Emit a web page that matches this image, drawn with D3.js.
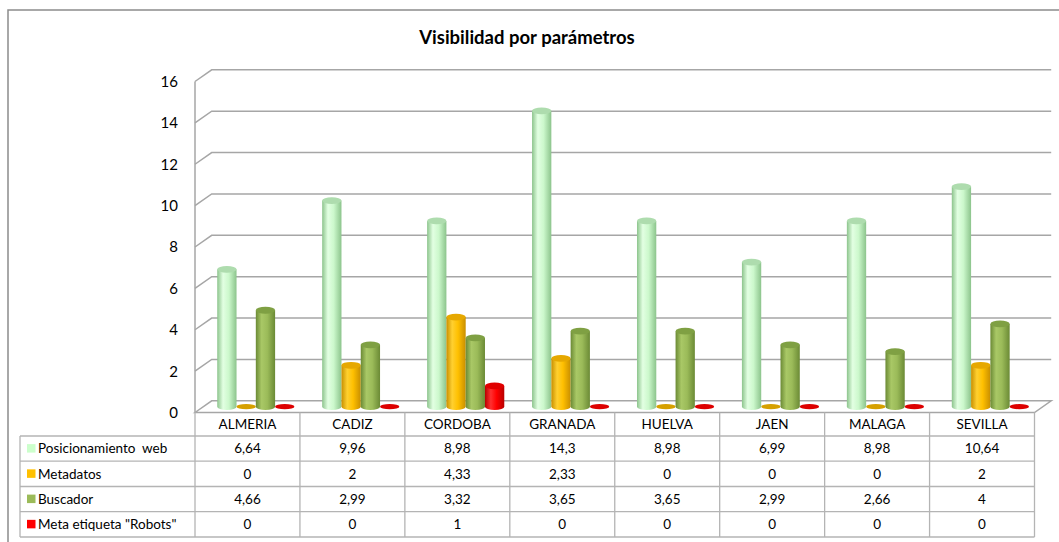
<!DOCTYPE html>
<html><head><meta charset="utf-8">
<script src="https://cdn.jsdelivr.net/npm/d3@7"></script>
<style>body{margin:0;background:#fff}svg{display:block}text{font-family:Lato,"Open Sans",sans-serif}</style>
</head><body><svg id="c" width="1059" height="542"></svg>
<script>
const categories = ["ALMERIA","CADIZ","CORDOBA","GRANADA","HUELVA","JAEN","MALAGA","SEVILLA"];
const seriesNames = ["Posicionamiento  web","Metadatos","Buscador","Meta etiqueta \"Robots\""];
const posicionamiento = [6.64,9.96,8.98,14.3,8.98,6.99,8.98,10.64];
const metadatos = [0,2,4.33,2.33,0,0,0,2];
const buscador = [4.66,2.99,3.32,3.65,3.65,2.99,2.66,4];
const robots = [0,0,1,0,0,0,0,0];
const yTicks = [0,2,4,6,8,10,12,14,16];
const seriesColors = ["#ccffcc","#ffc000","#9bbb59","#ff0000"];
const title = "Visibilidad por parámetros";

const seriesValues = [posicionamiento, metadatos, buscador, robots];
const grad = [
  {dark:"#8cc48c", light:"#e2ffe2", mid:"#ccf8cc", top:"#aedcae", zero:"#a8d8a8"},
  {dark:"#c98f00", light:"#ffd030", mid:"#ffc000", top:"#e6a800", zero:"#d6a000"},
  {dark:"#6b8a35", light:"#a9c866", mid:"#9bbb59", top:"#7fa043", zero:"#7a9a40"},
  {dark:"#b80000", light:"#ff3030", mid:"#ff0000", top:"#e00000", zero:"#dd0000"}
];

const svg = d3.select("#c");
const DX = 16.7, DY = -11.7;
const x0 = 195, x1 = 1034.5;
const x = d3.scaleBand().domain(categories).range([x0, x1]).paddingInner(0).paddingOuter(0);
const xs = d3.scaleBand().domain(d3.range(4)).range([0, x.bandwidth()]).paddingInner(0).paddingOuter(0.72);
const y = d3.scaleLinear().domain([0,16]).range([412.5, 81.5]);

svg.append("rect").attr("x",8).attr("y",10).attr("width",1070).attr("height",560)
  .attr("fill","none").attr("stroke","#8c8c8c").attr("stroke-width",1.5);

svg.append("text").attr("x",527).attr("y",44).attr("text-anchor","middle")
  .attr("font-size",18.5).attr("font-weight","bold").attr("fill","#000").text(title);

const gridC = "#a6a6a6";
const g = svg.append("g").attr("fill","none").attr("stroke",gridC).attr("stroke-width",1.5);
yTicks.forEach(t => {
  if (t === 0) return;
  g.append("path").attr("d", `M${x0},${y(t)}L${x0+DX},${y(t)+DY}L${x1+DX},${y(t)+DY}`);
});
g.append("line").attr("x1",x0).attr("x2",x0).attr("y1",y(16)).attr("y2",y(0));
g.append("path").attr("d", `M${x0},${y(0)}L${x0+DX},${y(0)+DY}L${x1+DX},${y(0)+DY}L${x1},${y(0)}Z`);

svg.append("g").selectAll("text").data(yTicks).join("text")
  .attr("x",178).attr("y",d=>y(d)).attr("dy","0.36em").attr("text-anchor","end")
  .attr("font-size",15).attr("fill","#000").text(d=>d);

const defs = svg.append("defs");
grad.forEach((c,i)=>{
  const lg = defs.append("linearGradient").attr("id","g"+i).attr("x1","0").attr("x2","1").attr("y1","0").attr("y2","0");
  lg.append("stop").attr("offset","0").attr("stop-color",c.dark);
  lg.append("stop").attr("offset","0.3").attr("stop-color",c.light);
  lg.append("stop").attr("offset","0.6").attr("stop-color",c.mid);
  lg.append("stop").attr("offset","1").attr("stop-color",c.dark);
});

const bars = svg.append("g");
const rx = xs.bandwidth()/2, ry = 3.4;
categories.forEach((cat,ci)=>{
  seriesValues.forEach((vals,si)=>{
    const v = vals[ci];
    const bx = x(cat) + xs(si) + DX/2;
    const yb = y(0) + DY/2;
    const yt = y(v) + DY/2;
    const cx = bx + rx;
    if (v === 0) {
      bars.append("ellipse").attr("cx",cx).attr("cy",yb).attr("rx",rx).attr("ry",2.6)
        .attr("fill",grad[si].zero);
      return;
    }
    bars.append("path")
      .attr("d",`M${bx},${yt}L${bx},${yb}A${rx},${ry} 0 0 0 ${bx+2*rx},${yb}L${bx+2*rx},${yt}Z`)
      .attr("fill",`url(#g${si})`);
    bars.append("ellipse").attr("cx",cx).attr("cy",yt).attr("rx",rx).attr("ry",ry)
      .attr("fill",grad[si].top);
  });
});

const tb = svg.append("g");
const rowY = [412.5, 436, 461.2, 486.5, 511.7, 537];
const lineC = "#b4b4b4";
const bounds = categories.map(c=>x(c)).concat([x1]);
tb.selectAll("line.h").data(rowY.slice(1)).join("line")
  .attr("x1",20).attr("x2",x1).attr("y1",d=>d).attr("y2",d=>d)
  .attr("stroke",lineC).attr("stroke-width",1.3);
tb.selectAll("line.v").data(bounds).join("line")
  .attr("x1",d=>d).attr("x2",d=>d).attr("y1",rowY[0]).attr("y2",rowY[5])
  .attr("stroke",lineC).attr("stroke-width",1.3);
tb.append("line").attr("x1",20).attr("x2",20).attr("y1",rowY[1]).attr("y2",rowY[5])
  .attr("stroke",lineC).attr("stroke-width",1.3);

tb.selectAll("text.cat").data(categories).join("text")
  .attr("x",d=>x(d)+x.bandwidth()/2).attr("y",(rowY[0]+rowY[1])/2).attr("dy","0.36em")
  .attr("text-anchor","middle").attr("font-size",13.5).attr("fill","#000").text(d=>d);

const fmt = v => String(v).replace(".", ",");
seriesValues.forEach((vals,si)=>{
  const cy = (rowY[si+1]+rowY[si+2])/2;
  tb.append("rect").attr("x",27).attr("y",cy-4.5).attr("width",8.5).attr("height",8.5).attr("fill",seriesColors[si]);
  tb.append("text").attr("x",38).attr("y",cy).attr("dy","0.36em").attr("font-size",13.5)
    .style("white-space","pre").attr("fill","#000").text(seriesNames[si]);
  tb.selectAll(null).data(vals).join("text")
    .attr("x",(d,i)=>x(categories[i])+x.bandwidth()/2).attr("y",cy).attr("dy","0.36em")
    .attr("text-anchor","middle").attr("font-size",13.5).attr("fill","#000").text(d=>fmt(d));
});
</script></body></html>
